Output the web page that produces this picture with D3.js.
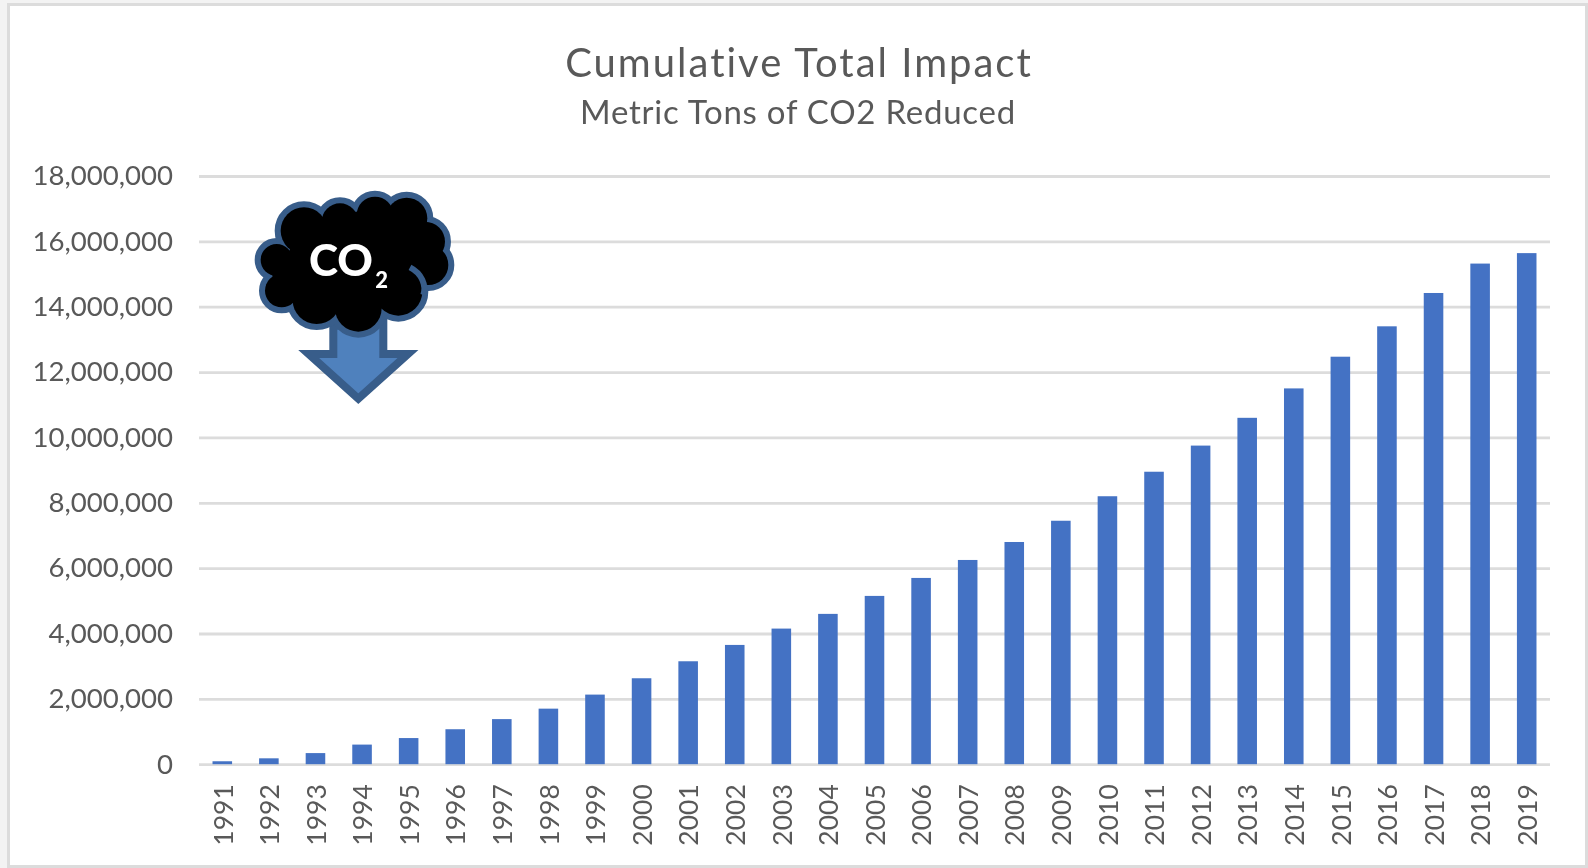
<!DOCTYPE html>
<html><head><meta charset="utf-8">
<script src="https://cdn.jsdelivr.net/npm/d3@7"></script>
<style>html,body{margin:0;padding:0;background:#f3f3f3;overflow:hidden}svg{display:block;filter:blur(0.45px)}text{font-family:Lato,"Open Sans",sans-serif}</style>
</head><body><svg id="c" width="1588" height="868"></svg>
<script>
const years = ["1991","1992","1993","1994","1995","1996","1997","1998","1999","2000","2001","2002","2003","2004","2005","2006","2007","2008","2009","2010","2011","2012","2013","2014","2015","2016","2017","2018","2019"];
const reduced = [90000,180000,340000,600000,800000,1070000,1380000,1700000,2130000,2630000,3150000,3650000,4150000,4600000,5150000,5700000,6250000,6800000,7450000,8200000,8950000,9750000,10600000,11500000,12470000,13400000,14420000,15320000,15640000];
const yTicks = [0,2000000,4000000,6000000,8000000,10000000,12000000,14000000,16000000,18000000];
const titleText = "Cumulative Total Impact";
const subtitleText = "Metric Tons of CO2 Reduced";

const svg = d3.select("#c");
svg.append("rect").attr("x",8.5).attr("y",4.5).attr("width",1578).attr("height",862).attr("fill","#fff").attr("stroke","#dcdcdc").attr("stroke-width",3);

const x = d3.scaleBand().domain(years).range([199,1550]).paddingInner(0.58).paddingOuter(0.29);
const y = d3.scaleLinear().domain([0,18000000]).range([764.2,176]);

const gy = svg.append("g").attr("transform","translate(199,0)")
  .call(d3.axisLeft(y).tickValues(yTicks).tickFormat(d3.format(",")).tickSize(-1351).tickPadding(26));
gy.select(".domain").remove();
gy.selectAll(".tick line").attr("stroke","#dcdcdc").attr("stroke-width",2.8);
gy.selectAll("text").attr("fill","#595959").style("font-size","27.6px");

svg.append("g").selectAll("rect").data(years).join("rect")
  .attr("x",d=>x(d)).attr("width",x.bandwidth())
  .attr("y",(d,i)=>y(reduced[i])).attr("height",(d,i)=>y(0)-y(reduced[i]))
  .attr("fill","#4472c4");

const gx = svg.append("g").attr("transform","translate(3.5,764.2)")
  .call(d3.axisBottom(x).tickSize(0).tickPadding(0));
gx.select(".domain").remove();
gx.selectAll("text").attr("fill","#595959").style("font-size","26.5px")
  .attr("text-anchor","end").attr("dy",null)
  .attr("transform","translate(0,20) rotate(-90)").attr("dominant-baseline","middle").attr("x",0).attr("y",0);

svg.append("text").attr("x",799).attr("y",76.5).attr("text-anchor","middle").attr("fill","#595959").style("font-size","40px").style("letter-spacing","2px").text(titleText);
svg.append("text").attr("x",798).attr("y",124).attr("text-anchor","middle").attr("fill","#595959").style("font-size","33px").style("letter-spacing","0.75px").text(subtitleText);

// CO2 cloud-and-arrow icon
const icon = svg.append("g").attr("transform","translate(230,170) scale(0.3333)");
icon.append("path").attr("d","M310,470V552H236L385,686L534,552H460V440Z")
  .attr("fill","#4f81bd").attr("stroke","#385d8a").attr("stroke-width",24);
const lobes = [[140,270,48],[155,362,50],[222,182,70],[330,155,55],[435,135,55],[530,145,62],[585,215,60],[595,285,60],[505,365,72],[385,415,70],[260,390,72]];
icon.selectAll("circle.o").data(lobes).join("circle").attr("class","o")
  .attr("cx",d=>d[0]).attr("cy",d=>d[1]).attr("r",d=>d[2]).attr("fill","#385d8a").attr("stroke","#385d8a").attr("stroke-width",36);
icon.selectAll("circle.i").data(lobes).join("circle").attr("class","i")
  .attr("cx",d=>d[0]).attr("cy",d=>d[1]).attr("r",d=>d[2]).attr("fill","#000");
icon.append("path").attr("d","M"+lobes.map(d=>d[0]+","+d[1]).join("L")+"Z").attr("fill","#000").attr("stroke","#000").attr("stroke-width",40).attr("stroke-linejoin","round");
icon.append("path").attr("d","M540,292C575,310 590,345 580,375").attr("fill","none").attr("stroke","#385d8a").attr("stroke-width",18);
icon.append("text").attr("x",333).attr("y",318).attr("text-anchor","middle").attr("fill","#fff").style("font-size","132px").style("font-weight","900").text("CO");
icon.append("text").attr("x",455).attr("y",353).attr("text-anchor","middle").attr("fill","#fff").style("font-size","66px").style("font-weight","900").text("2");
</script></body></html>
